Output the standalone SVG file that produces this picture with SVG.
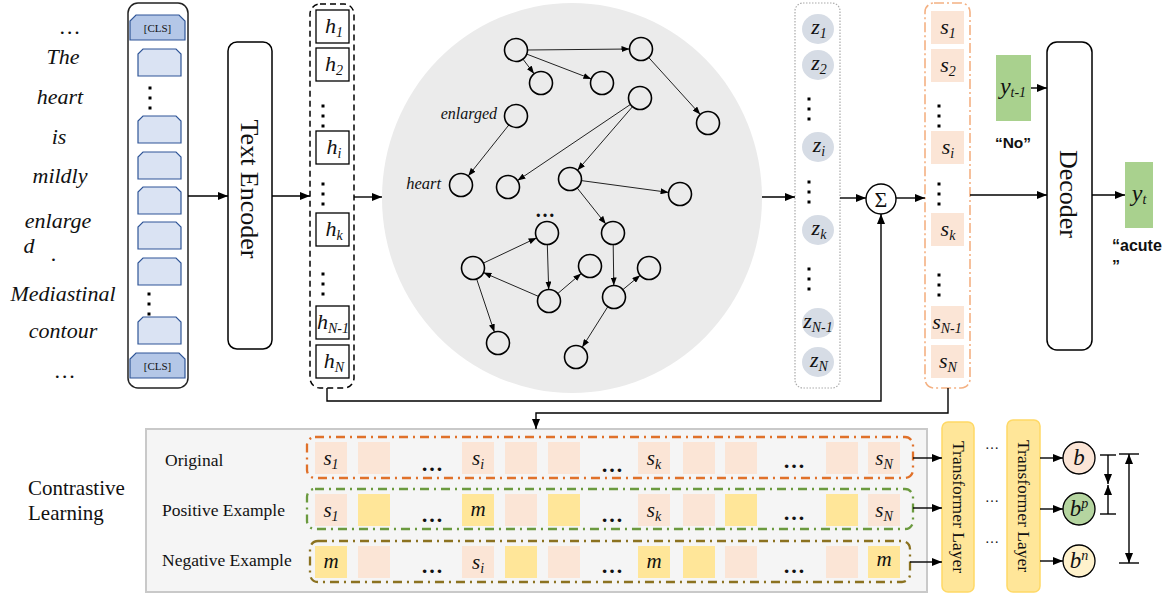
<svg xmlns="http://www.w3.org/2000/svg" width="1173" height="594" viewBox="0 0 1173 594">
<style>
.it{font-family:"Liberation Serif",serif;font-style:italic;fill:#111}
.sf{font-family:"Liberation Serif",serif;fill:#111}
.sb{font-family:"Liberation Sans",Arial,sans-serif;font-weight:bold;fill:#111}
.ln{fill:none;stroke:#000;stroke-width:1.4}
.ge{fill:none;stroke:#222;stroke-width:1}
.gn{fill:none;stroke:#000;stroke-width:1.6}
.tok{fill:#dae3f3;stroke:#2f5597;stroke-width:1.2}
.cls{fill:#b4c7e7;stroke:#2f5597;stroke-width:1.2}
.hb{fill:#fff;stroke:#000;stroke-width:1.3}
.pe{fill:#fbe5d6}
.ye{fill:#ffe699}
.zc{fill:#d6dce5}
.dot{fill:#000}
.lbl{font-size:22px}
.sub{font-size:14px}
</style>
<defs>
<marker id="ah" markerWidth="10" markerHeight="8" refX="10" refY="4" orient="auto-start-reverse" markerUnits="userSpaceOnUse"><path d="M0,0 L10,4 L0,8 z" fill="#000"/></marker>
<marker id="ahs" markerWidth="8" markerHeight="6" refX="8" refY="3" orient="auto" markerUnits="userSpaceOnUse"><path d="M0,0 L8,3 L0,6 z" fill="#000"/></marker>
<path id="tabL" d="M0,27 V5 L5,0 H38 L43,5 V27 Z"/>
<path id="tabC" d="M0,25 V6 L6,0 H49 L55,6 V25 Z"/>
</defs>

<!-- input words -->
<g id="input-text" class="it" font-size="22" text-anchor="middle">
<text x="70" y="34">…</text>
<text x="63" y="64">The</text>
<text x="60" y="104">heart</text>
<text x="59" y="144">is</text>
<text x="60" y="183">mildly</text>
<text x="58" y="228">enlarge</text>
<text x="29" y="253">d</text>
<text x="54" y="261">.</text>
<text x="63" y="301">Mediastinal</text>
<text x="63" y="338">contour</text>
<text x="65" y="378">…</text>
</g>

<!-- token column -->
<g id="token-column">
<rect x="128" y="3" width="60" height="385" rx="10" fill="#fff" stroke="#222" stroke-width="1.5"/>
<use href="#tabC" x="130" y="15" class="cls"/>
<text x="157.5" y="32" class="sf" font-size="11" text-anchor="middle">[CLS]</text>
<use href="#tabL" x="138" y="49" class="tok"/>
<use href="#tabL" x="138" y="116" class="tok"/>
<use href="#tabL" x="138" y="152" class="tok"/>
<use href="#tabL" x="138" y="187" class="tok"/>
<use href="#tabL" x="138" y="222" class="tok"/>
<use href="#tabL" x="138" y="258" class="tok"/>
<use href="#tabL" x="138" y="317" class="tok"/>
<use href="#tabC" x="130" y="353" class="cls"/>
<text x="157.5" y="370" class="sf" font-size="11" text-anchor="middle">[CLS]</text>
<rect class="dot" x="148.5" y="86.5" width="3" height="3"/>
<rect class="dot" x="148.5" y="96.5" width="3" height="3"/>
<rect class="dot" x="148.5" y="106.5" width="3" height="3"/>
<rect class="dot" x="147.5" y="292.5" width="3" height="3"/>
<rect class="dot" x="147.5" y="302.5" width="3" height="3"/>
<rect class="dot" x="147.5" y="312.5" width="3" height="3"/>
</g>

<!-- text encoder -->
<g id="text-encoder">
<rect x="228" y="42" width="44" height="307" rx="9" fill="#fff" stroke="#000" stroke-width="1.5"/>
<text class="sf" font-size="26" text-anchor="middle" transform="translate(250,189) rotate(90)" y="9">Text Encoder</text>
</g>

<!-- h column -->
<g id="h-column">
<rect x="310" y="4" width="44" height="384" rx="10" fill="none" stroke="#000" stroke-width="1.5" stroke-dasharray="6,4"/>
<rect class="hb" x="316" y="10" width="33" height="33"/>
<rect class="hb" x="316" y="48" width="33" height="33"/>
<rect class="hb" x="316" y="131" width="33" height="33"/>
<rect class="hb" x="316" y="213" width="33" height="33"/>
<rect class="hb" x="316" y="306" width="33" height="33"/>
<rect class="hb" x="316" y="345" width="33" height="33"/>
<g class="it lbl" text-anchor="middle">
<text x="334" y="33">h<tspan class="sub" dy="4">1</tspan></text>
<text x="334" y="71">h<tspan class="sub" dy="4">2</tspan></text>
<text x="334" y="154">h<tspan class="sub" dy="4">i</tspan></text>
<text x="334" y="236">h<tspan class="sub" dy="4">k</tspan></text>
<text x="333" y="329">h<tspan class="sub" dy="4">N-1</tspan></text>
<text x="334" y="368">h<tspan class="sub" dy="4">N</tspan></text>
</g>
<rect class="dot" x="321.5" y="104.5" width="3" height="3"/>
<rect class="dot" x="321.5" y="114.5" width="3" height="3"/>
<rect class="dot" x="321.5" y="124.5" width="3" height="3"/>
<rect class="dot" x="321.5" y="182.5" width="3" height="3"/>
<rect class="dot" x="321.5" y="192.5" width="3" height="3"/>
<rect class="dot" x="321.5" y="202.5" width="3" height="3"/>
<rect class="dot" x="321.5" y="272.5" width="3" height="3"/>
<rect class="dot" x="321.5" y="282.5" width="3" height="3"/>
<rect class="dot" x="321.5" y="292.5" width="3" height="3"/>
</g>

<!-- graph -->
<g id="graph">
<ellipse cx="572" cy="198" rx="190" ry="195" fill="#ebebeb"/>
<g class="ge" marker-end="url(#ahs)">
<line x1="527.5" y1="50" x2="629.5" y2="49"/>
<line x1="523" y1="59.2" x2="534.1" y2="73.8"/>
<line x1="526.7" y1="54.1" x2="591.3" y2="78.9"/>
<line x1="648.7" y1="57.5" x2="700.3" y2="114.5"/>
<line x1="508.8" y1="125" x2="468.2" y2="176"/>
<line x1="630.5" y1="104.4" x2="517.5" y2="180.6"/>
<line x1="632.5" y1="106.7" x2="577.5" y2="170.3"/>
<line x1="581.4" y1="180.6" x2="668.6" y2="192.4"/>
<line x1="577.2" y1="188" x2="605.8" y2="224"/>
<line x1="613.2" y1="244.5" x2="613.8" y2="285.5"/>
<line x1="622.8" y1="289.7" x2="640.2" y2="275.3"/>
<line x1="607.8" y1="306.7" x2="582.2" y2="347.3"/>
<line x1="547.3" y1="244.5" x2="548.7" y2="289.5"/>
<line x1="538.5" y1="296.4" x2="483.5" y2="272.6"/>
<line x1="483.4" y1="263.1" x2="536.6" y2="237.9"/>
<line x1="557.8" y1="293.5" x2="581.2" y2="273.5"/>
<line x1="476.6" y1="278.9" x2="494.4" y2="332.1"/>
</g>
<g class="gn">
<circle cx="516" cy="50" r="11.5"/>
<circle cx="541" cy="83" r="11.5"/>
<circle cx="602" cy="83" r="11.5"/>
<circle cx="641" cy="49" r="11.5"/>
<circle cx="708" cy="123" r="11.5"/>
<circle cx="640" cy="98" r="11.5"/>
<circle cx="516" cy="116" r="11.5"/>
<circle cx="461" cy="185" r="11.5"/>
<circle cx="508" cy="187" r="11.5"/>
<circle cx="570" cy="179" r="11.5"/>
<circle cx="680" cy="194" r="11.5"/>
<circle cx="547" cy="233" r="11.5"/>
<circle cx="613" cy="233" r="11.5"/>
<circle cx="473" cy="268" r="11.5"/>
<circle cx="590" cy="266" r="11.5"/>
<circle cx="649" cy="268" r="11.5"/>
<circle cx="549" cy="301" r="11.5"/>
<circle cx="614" cy="297" r="11.5"/>
<circle cx="498" cy="343" r="11.5"/>
<circle cx="576" cy="357" r="11.5"/>
</g>
<text class="it" font-size="16" x="497" y="119" text-anchor="end">enlarged</text>
<text class="it" font-size="16.5" x="441" y="189" text-anchor="end">heart</text>
<text class="sf" font-size="20" font-weight="bold" x="545" y="217" text-anchor="middle">…</text>
</g>

<!-- z column -->
<g id="z-column">
<rect x="795" y="3" width="45" height="385" rx="8" fill="none" stroke="#aaa" stroke-width="1.2" stroke-dasharray="1.5,1.5"/>
<ellipse class="zc" cx="818" cy="29" rx="16" ry="15"/>
<ellipse class="zc" cx="818" cy="65" rx="16" ry="15"/>
<ellipse class="zc" cx="818" cy="147" rx="16" ry="15"/>
<ellipse class="zc" cx="818" cy="230" rx="16" ry="15"/>
<ellipse class="zc" cx="818" cy="323" rx="16" ry="15"/>
<ellipse class="zc" cx="818" cy="362" rx="16" ry="15"/>
<g class="it lbl" text-anchor="middle">
<text x="819" y="34">z<tspan class="sub" dy="4">1</tspan></text>
<text x="819" y="70">z<tspan class="sub" dy="4">2</tspan></text>
<text x="819" y="152">z<tspan class="sub" dy="4">i</tspan></text>
<text x="819" y="235">z<tspan class="sub" dy="4">k</tspan></text>
<text x="818" y="328">z<tspan class="sub" dy="4">N-1</tspan></text>
<text x="819" y="367">z<tspan class="sub" dy="4">N</tspan></text>
</g>
<rect class="dot" x="807.5" y="97.5" width="3" height="3"/>
<rect class="dot" x="807.5" y="107.5" width="3" height="3"/>
<rect class="dot" x="807.5" y="117.5" width="3" height="3"/>
<rect class="dot" x="807.5" y="180.5" width="3" height="3"/>
<rect class="dot" x="807.5" y="190.5" width="3" height="3"/>
<rect class="dot" x="807.5" y="200.5" width="3" height="3"/>
<rect class="dot" x="807.5" y="267.5" width="3" height="3"/>
<rect class="dot" x="807.5" y="277.5" width="3" height="3"/>
<rect class="dot" x="807.5" y="287.5" width="3" height="3"/>
</g>

<!-- sum -->
<g id="sum">
<circle cx="881" cy="199" r="15" fill="#fff" stroke="#000" stroke-width="1.4"/>
<text class="sf" font-size="22" x="881" y="207" text-anchor="middle">Σ</text>
</g>

<!-- s column -->
<g id="s-column">
<rect x="925" y="3" width="45" height="385" rx="9" fill="none" stroke="#f4b183" stroke-width="1.6" stroke-dasharray="10,3,2,3"/>
<rect class="pe" x="931" y="11" width="33" height="33"/>
<rect class="pe" x="931" y="49" width="33" height="33"/>
<rect class="pe" x="931" y="131" width="33" height="33"/>
<rect class="pe" x="931" y="213" width="33" height="33"/>
<rect class="pe" x="931" y="306" width="33" height="33"/>
<rect class="pe" x="931" y="345" width="33" height="33"/>
<g class="it lbl" text-anchor="middle">
<text x="948" y="34">s<tspan class="sub" dy="4">1</tspan></text>
<text x="948" y="72">s<tspan class="sub" dy="4">2</tspan></text>
<text x="948" y="154">s<tspan class="sub" dy="4">i</tspan></text>
<text x="948" y="236">s<tspan class="sub" dy="4">k</tspan></text>
<text x="947" y="329">s<tspan class="sub" dy="4">N-1</tspan></text>
<text x="948" y="368">s<tspan class="sub" dy="4">N</tspan></text>
</g>
<rect class="dot" x="937.5" y="104.5" width="3" height="3"/>
<rect class="dot" x="937.5" y="114.5" width="3" height="3"/>
<rect class="dot" x="937.5" y="124.5" width="3" height="3"/>
<rect class="dot" x="937.5" y="182.5" width="3" height="3"/>
<rect class="dot" x="937.5" y="192.5" width="3" height="3"/>
<rect class="dot" x="937.5" y="202.5" width="3" height="3"/>
<rect class="dot" x="937.5" y="273.5" width="3" height="3"/>
<rect class="dot" x="937.5" y="283.5" width="3" height="3"/>
<rect class="dot" x="937.5" y="293.5" width="3" height="3"/>
</g>

<!-- decoder -->
<g id="decoder">
<rect x="1047" y="42" width="45" height="308" rx="10" fill="#fff" stroke="#000" stroke-width="1.5"/>
<text class="sf" font-size="26" text-anchor="middle" transform="translate(1069,194) rotate(90)" y="9">Decoder</text>
</g>

<g id="y-prev">
<rect x="996" y="55" width="35" height="66" fill="#a9d18e"/>
<text class="it" x="1013" y="94" text-anchor="middle" font-size="24">y<tspan font-size="14" dy="3">t-1</tspan></text>
<text class="sb" x="1013" y="148" text-anchor="middle" font-size="15.5">“No”</text>
</g>

<g id="y-t">
<rect x="1125" y="162" width="28" height="66" fill="#a9d18e"/>
<text class="it" x="1139" y="201" text-anchor="middle" font-size="24">y<tspan font-size="14" dy="3">t</tspan></text>
<text class="sb" x="1112" y="251" font-size="16">“acute</text>
<text class="sb" x="1112" y="272" font-size="16">”</text>
</g>

<!-- contrastive learning -->
<g id="contrastive-label" class="sf" font-size="21">
<text x="28" y="495">Contrastive</text>
<text x="28" y="520">Learning</text>
</g>

<g id="contrastive-box">
<rect x="146" y="429" width="781" height="163" fill="#f5f5f5" stroke="#c9c9c9" stroke-width="2"/>
<g class="sf" font-size="17.5">
<text x="165" y="466">Original</text>
<text x="162" y="516">Positive Example</text>
<text x="162" y="566">Negative Example</text>
</g>
</g>

<g id="row-original">
<rect x="307" y="437" width="606" height="41" rx="8" fill="none" stroke="#e0712a" stroke-width="2.3" stroke-dasharray="9,5,2,5"/>
<rect class="pe" x="315" y="442" width="32" height="32"/>
<rect class="pe" x="358" y="442" width="32" height="32"/>
<rect class="pe" x="462" y="442" width="32" height="32"/>
<rect class="pe" x="505" y="442" width="32" height="32"/>
<rect class="pe" x="548" y="442" width="32" height="32"/>
<rect class="pe" x="638" y="442" width="32" height="32"/>
<rect class="pe" x="683" y="442" width="32" height="32"/>
<rect class="pe" x="725" y="442" width="32" height="32"/>
<rect class="pe" x="826" y="442" width="32" height="32"/>
<rect class="pe" x="868" y="442" width="32" height="32"/>
<g class="it" font-size="21" text-anchor="middle">
<text x="331" y="465">s<tspan class="sub" dy="4">1</tspan></text>
<text x="478" y="465">s<tspan class="sub" dy="4">i</tspan></text>
<text x="654" y="465">s<tspan class="sub" dy="4">k</tspan></text>
<text x="884" y="465">s<tspan class="sub" dy="4">N</tspan></text>
</g>
<g class="sf" font-size="22" font-weight="bold" text-anchor="middle">
<text x="432" y="471">…</text>
<text x="612" y="472">…</text>
<text x="794" y="468">…</text>
</g>
</g>

<g id="row-positive">
<rect x="307" y="489" width="606" height="40" rx="8" fill="none" stroke="#6b9a3f" stroke-width="2.3" stroke-dasharray="9,5,2,5"/>
<rect class="pe" x="315" y="494" width="32" height="32"/>
<rect class="ye" x="358" y="494" width="32" height="32"/>
<rect class="ye" x="462" y="494" width="32" height="32"/>
<rect class="pe" x="505" y="494" width="32" height="32"/>
<rect class="ye" x="548" y="494" width="32" height="32"/>
<rect class="pe" x="638" y="494" width="32" height="32"/>
<rect class="pe" x="683" y="494" width="32" height="32"/>
<rect class="ye" x="725" y="494" width="32" height="32"/>
<rect class="ye" x="826" y="494" width="32" height="32"/>
<rect class="pe" x="868" y="494" width="32" height="32"/>
<g class="it" font-size="21" text-anchor="middle">
<text x="331" y="517">s<tspan class="sub" dy="4">1</tspan></text>
<text x="478" y="516">m</text>
<text x="654" y="517">s<tspan class="sub" dy="4">k</tspan></text>
<text x="884" y="517">s<tspan class="sub" dy="4">N</tspan></text>
</g>
<g class="sf" font-size="22" font-weight="bold" text-anchor="middle">
<text x="432" y="522">…</text>
<text x="612" y="522">…</text>
<text x="794" y="520">…</text>
</g>
</g>

<g id="row-negative">
<rect x="310" y="541" width="600" height="41" rx="8" fill="none" stroke="#8b7220" stroke-width="2.3" stroke-dasharray="9,5,2,5"/>
<rect class="ye" x="315" y="546" width="32" height="32"/>
<rect class="pe" x="358" y="546" width="32" height="32"/>
<rect class="pe" x="462" y="546" width="32" height="32"/>
<rect class="ye" x="505" y="546" width="32" height="32"/>
<rect class="pe" x="548" y="546" width="32" height="32"/>
<rect class="ye" x="638" y="546" width="32" height="32"/>
<rect class="ye" x="683" y="546" width="32" height="32"/>
<rect class="pe" x="725" y="546" width="32" height="32"/>
<rect class="pe" x="826" y="546" width="32" height="32"/>
<rect class="ye" x="868" y="546" width="32" height="32"/>
<g class="it" font-size="21" text-anchor="middle">
<text x="331" y="568">m</text>
<text x="478" y="569">s<tspan class="sub" dy="4">i</tspan></text>
<text x="654" y="568">m</text>
<text x="884" y="566">m</text>
</g>
<g class="sf" font-size="22" font-weight="bold" text-anchor="middle">
<text x="432" y="573">…</text>
<text x="612" y="573">…</text>
<text x="794" y="573">…</text>
</g>
</g>

<!-- transformer layers -->
<g id="transformer-1">
<rect x="942" y="422" width="32" height="170" rx="6" fill="#ffe699" stroke="#ffd966" stroke-width="1.5"/>
<text class="sf" font-size="17.5" text-anchor="middle" transform="translate(958,507) rotate(90)" y="5.5">Transformer Layer</text>
</g>
<g id="transformer-dots" class="sf" font-size="14" text-anchor="middle">
<text x="992" y="449">…</text>
<text x="992" y="502">…</text>
<text x="992" y="543">…</text>
</g>
<g id="transformer-2">
<rect x="1007" y="420" width="33" height="172" rx="6" fill="#ffe699" stroke="#ffd966" stroke-width="1.5"/>
<text class="sf" font-size="17.5" text-anchor="middle" transform="translate(1023.5,506) rotate(90)" y="5.5">Transformer Layer</text>
</g>

<g id="b">
<circle cx="1079" cy="458" r="16" fill="#fbe5d6" stroke="#000" stroke-width="1.3"/>
<text class="it" font-size="23" x="1079" y="465" text-anchor="middle">b</text>
</g>
<g id="b-p">
<circle cx="1079" cy="509" r="16" fill="#b5d5a0" stroke="#000" stroke-width="1.3"/>
<text class="it" font-size="23" x="1079" y="516" text-anchor="middle">b<tspan font-size="14" dy="-8">p</tspan></text>
</g>
<g id="b-n">
<circle cx="1079" cy="561" r="16" fill="#fff2cc" stroke="#000" stroke-width="1.3"/>
<text class="it" font-size="23" x="1079" y="568" text-anchor="middle">b<tspan font-size="14" dy="-8">n</tspan></text>
</g>

<!-- connectors -->
<g id="connectors" class="ln">
<line x1="188" y1="196" x2="228" y2="196" marker-end="url(#ah)"/>
<line x1="272" y1="196" x2="310" y2="196" marker-end="url(#ah)"/>
<line x1="354" y1="197" x2="382" y2="197" marker-end="url(#ah)"/>
<line x1="762" y1="197" x2="795" y2="197" marker-end="url(#ah)"/>
<line x1="840" y1="198" x2="866" y2="198" marker-end="url(#ah)"/>
<line x1="896" y1="198" x2="925" y2="198" marker-end="url(#ah)"/>
<line x1="970" y1="195" x2="1047" y2="195" marker-end="url(#ah)"/>
<line x1="1031" y1="88" x2="1047" y2="88" marker-end="url(#ah)"/>
<line x1="1092" y1="195" x2="1125" y2="195" marker-end="url(#ah)"/>
<polyline points="327,388 327,401 881,401 881,214" marker-end="url(#ah)"/>
<polyline points="948,388 948,413 536,413 536,429" marker-end="url(#ah)"/>
<line x1="913" y1="458" x2="942" y2="458" marker-end="url(#ah)"/>
<line x1="913" y1="508" x2="942" y2="508" marker-end="url(#ah)"/>
<line x1="910" y1="562" x2="942" y2="562" marker-end="url(#ah)"/>
<line x1="1040" y1="458" x2="1063" y2="458" marker-end="url(#ah)"/>
<line x1="1040" y1="509" x2="1063" y2="509" marker-end="url(#ah)"/>
<line x1="1040" y1="561" x2="1063" y2="561" marker-end="url(#ah)"/>
<line x1="1100" y1="455" x2="1116" y2="455"/>
<line x1="1100" y1="514" x2="1116" y2="514"/>
<line x1="1108" y1="455" x2="1108" y2="484" marker-end="url(#ah)"/>
<line x1="1108" y1="514" x2="1108" y2="485" marker-end="url(#ah)"/>
<line x1="1119" y1="454" x2="1139" y2="454"/>
<line x1="1119" y1="563" x2="1139" y2="563"/>
<line x1="1129" y1="454" x2="1129" y2="563" marker-start="url(#ah)" marker-end="url(#ah)"/>
</g>
</svg>
